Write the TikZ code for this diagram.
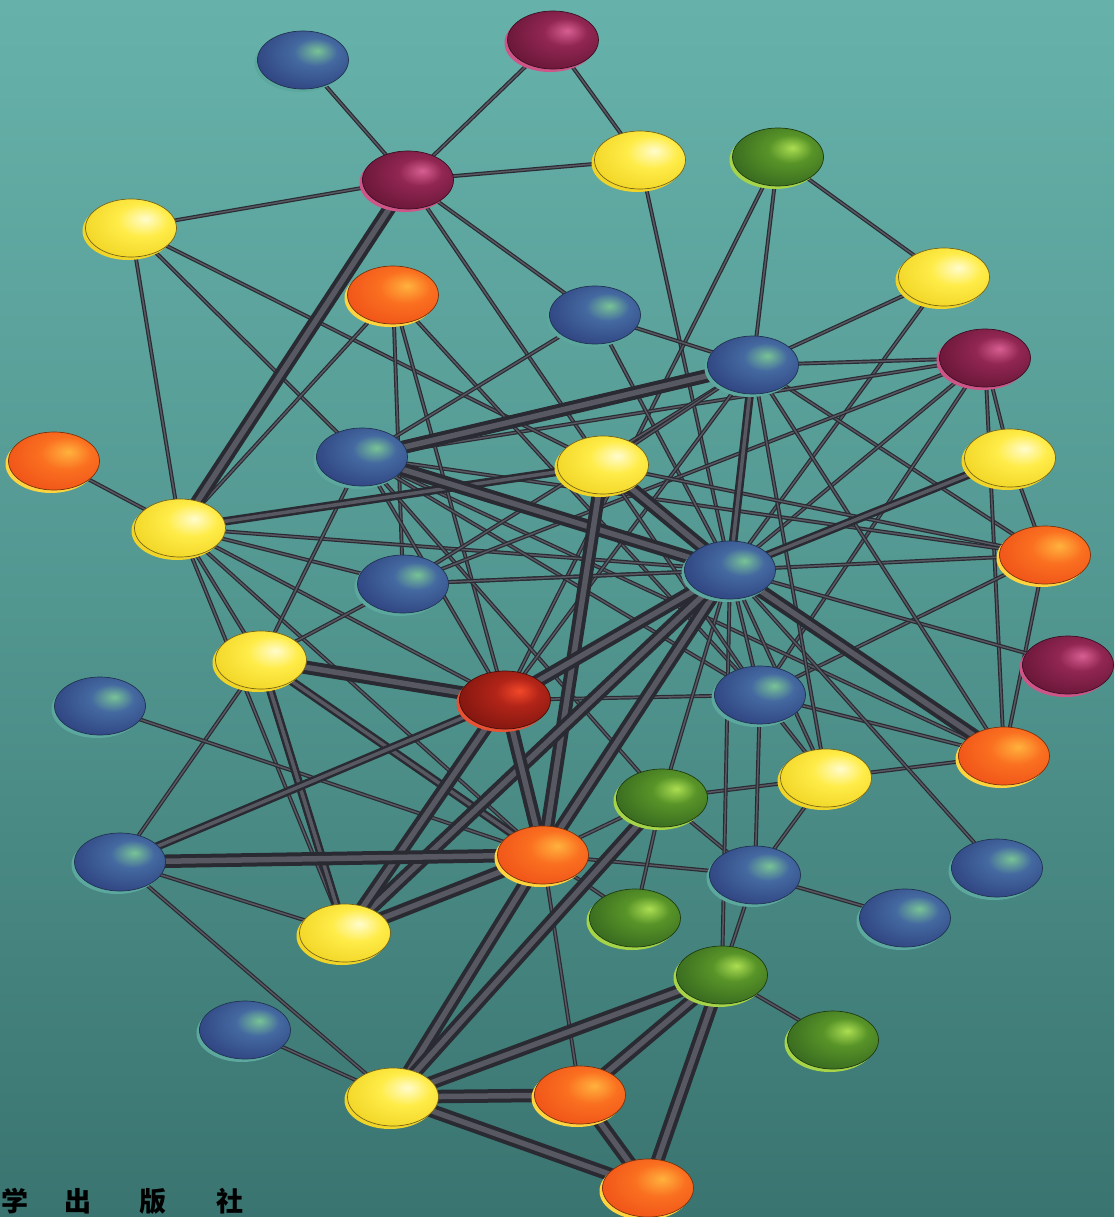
\documentclass[tikz,border=0pt]{standalone}
\usepackage{fontspec}
\newfontfamily\cjk{Noto Sans CJK SC}
\usetikzlibrary{shapes.geometric,shadows}

% colours
\definecolor{bgTop}{RGB}{102,178,170}
\definecolor{bgMid}{RGB}{82,150,144}
\definecolor{bgBot}{RGB}{58,116,112}
\definecolor{edgeDk}{RGB}{42,42,50}
\definecolor{edgeLt}{RGB}{88,88,98}

\definecolor{bHi}{RGB}{120,195,150}\definecolor{bMid}{RGB}{68,105,160}\definecolor{bDk}{RGB}{44,62,125}\definecolor{bRim}{RGB}{92,168,158}\definecolor{bOut}{RGB}{32,52,82}
\definecolor{mHi}{RGB}{215,95,145}\definecolor{mMid}{RGB}{145,38,82}\definecolor{mDk}{RGB}{98,20,52}\definecolor{mRim}{RGB}{205,85,135}\definecolor{mOut}{RGB}{60,15,35}
\definecolor{yHi}{RGB}{255,252,205}\definecolor{yMid}{RGB}{255,236,72}\definecolor{yDk}{RGB}{236,205,25}\definecolor{yRim}{RGB}{240,212,40}\definecolor{yOut}{RGB}{120,100,25}
\definecolor{oHi}{RGB}{255,178,62}\definecolor{oMid}{RGB}{250,112,32}\definecolor{oDk}{RGB}{236,72,22}\definecolor{oRim}{RGB}{255,212,62}\definecolor{oOut}{RGB}{120,50,12}
\definecolor{gHi}{RGB}{172,222,82}\definecolor{gMid}{RGB}{88,148,40}\definecolor{gDk}{RGB}{50,98,30}\definecolor{gRim}{RGB}{165,212,72}\definecolor{gOut}{RGB}{30,60,15}
\definecolor{rHi}{RGB}{242,72,42}\definecolor{rMid}{RGB}{178,36,24}\definecolor{rDk}{RGB}{120,20,14}\definecolor{rRim}{RGB}{232,82,52}\definecolor{rOut}{RGB}{70,15,10}

\pgfdeclareradialshading{shBlue}{\pgfqpoint{8bp}{8bp}}{color(0bp)=(bHi); color(12bp)=(bMid); color(36bp)=(bDk); color(50bp)=(bDk); color(80bp)=(bDk)}
\pgfdeclareradialshading{shMaroon}{\pgfqpoint{8bp}{8bp}}{color(0bp)=(mHi); color(12bp)=(mMid); color(36bp)=(mDk); color(50bp)=(mDk); color(80bp)=(mDk)}
\pgfdeclareradialshading{shYellow}{\pgfqpoint{8bp}{8bp}}{color(0bp)=(yHi); color(14bp)=(yMid); color(40bp)=(yDk); color(50bp)=(yDk); color(80bp)=(yDk)}
\pgfdeclareradialshading{shOrange}{\pgfqpoint{8bp}{8bp}}{color(0bp)=(oHi); color(14bp)=(oMid); color(40bp)=(oDk); color(50bp)=(oDk); color(80bp)=(oDk)}
\pgfdeclareradialshading{shGreen}{\pgfqpoint{8bp}{8bp}}{color(0bp)=(gHi); color(12bp)=(gMid); color(36bp)=(gDk); color(50bp)=(gDk); color(80bp)=(gDk)}
\pgfdeclareradialshading{shRed}{\pgfqpoint{8bp}{8bp}}{color(0bp)=(rHi); color(12bp)=(rMid); color(36bp)=(rDk); color(50bp)=(rDk); color(80bp)=(rDk)}

\pgfdeclarelayer{bg}
\pgfdeclarelayer{edges}
\pgfsetlayers{bg,edges,main}

\tikzset{
  ball/.style={ellipse, minimum width=91pt, minimum height=58pt, inner sep=0pt},
  nB/.style={ball, shading=shBlue, draw=bOut, line width=0.7pt, drop shadow={shadow xshift=-3pt,shadow yshift=-3pt,fill=bRim,opacity=1}},
  nM/.style={ball, shading=shMaroon, draw=mOut, line width=0.7pt, drop shadow={shadow xshift=-3pt,shadow yshift=-3pt,fill=mRim,opacity=1}},
  nY/.style={ball, shading=shYellow, draw=yOut, line width=0.7pt, drop shadow={shadow xshift=-3pt,shadow yshift=-3pt,fill=yRim,opacity=1}},
  nO/.style={ball, shading=shOrange, draw=oOut, line width=0.7pt, drop shadow={shadow xshift=-3pt,shadow yshift=-3pt,fill=oRim,opacity=1}},
  nG/.style={ball, shading=shGreen, draw=gOut, line width=0.7pt, drop shadow={shadow xshift=-3pt,shadow yshift=-3pt,fill=gRim,opacity=1}},
  nR/.style={ball, shading=shRed, draw=rOut, line width=0.7pt, drop shadow={shadow xshift=-3pt,shadow yshift=-3pt,fill=rRim,opacity=1}},
  thinE/.style={draw=edgeDk, double=edgeLt, line width=1.2pt, double distance=1.5pt, line cap=round},
  medE/.style={draw=edgeDk, double=edgeLt, line width=2.5pt, double distance=3.5pt, line cap=round},
  thickE/.style={draw=edgeDk, double=edgeLt, line width=4pt, double distance=5.5pt, line cap=round},
  cjkchar/.style={anchor=base, text=black, font=\cjk\bfseries\fontsize{27pt}{27pt}\selectfont, inner sep=0pt}
}

\begin{document}
\begin{tikzpicture}[x=1pt, y=-1pt]
\useasboundingbox (0,0) rectangle (1114,1217);
\clip (0,0) rectangle (1114,1217);
\begin{pgfonlayer}{bg}
  \shade[top color=bgTop, bottom color=bgBot, middle color=bgMid] (0,0) rectangle (1114,1217);
\end{pgfonlayer}

% nodes
\node[nB] (bA) at (303,60) {};
\node[nM] (mB) at (553,40) {};
\node[nM] (mC) at (408,180) {};
\node[nY] (yD) at (640,160) {};
\node[nG] (gE) at (778,157) {};
\node[nY] (yF) at (131,228) {};
\node[nY] (yG) at (944,277) {};
\node[nO] (oH) at (393,295) {};
\node[nB] (bI) at (595,315) {};
\node[nB] (bJ) at (753,365) {};
\node[nM] (mK) at (985,358) {};
\node[nO] (oL) at (54,461) {};
\node[nB] (bM) at (362,457) {};
\node[nY] (yN) at (603,465) {};
\node[nY] (yO) at (1010,458) {};
\node[nY] (yP) at (180,528) {};
\node[nB] (bQ) at (730,570) {};
\node[nO] (oR) at (1045,555) {};
\node[nB] (bS) at (403,584) {};
\node[nY] (yT) at (261,660) {};
\node[nR] (rU) at (505,700) {};
\node[nB] (bV) at (760,695) {};
\node[nM] (mW) at (1068,665) {};
\node[nB] (bX) at (100,706) {};
\node[nO] (oY) at (1004,756) {};
\node[nY] (yZ) at (826,778) {};
\node[nG] (g27) at (662,798) {};
\node[nB] (b28) at (120,862) {};
\node[nO] (o29) at (543,855) {};
\node[nB] (b30) at (755,875) {};
\node[nB] (b31) at (997,868) {};
\node[nG] (g32) at (635,918) {};
\node[nB] (b33) at (905,918) {};
\node[nY] (y34) at (345,933) {};
\node[nG] (g35) at (722,975) {};
\node[nG] (g36) at (833,1040) {};
\node[nB] (b37) at (245,1030) {};
\node[nY] (y38) at (393,1097) {};
\node[nO] (o39) at (580,1095) {};
\node[nO] (o40) at (648,1188) {};

% edges
\begin{pgfonlayer}{edges}
\foreach \a/\b in {bA/mC, mB/mC, mB/yD, mC/yD, mC/yF, mC/bI, mC/yN, yD/bQ,
  gE/bJ, gE/yG, gE/rU, yG/bJ, yG/bQ, bJ/mK, bJ/bI, bJ/oR, mK/bM, mK/yO, mK/oY,
  mK/bQ, mK/bV, yO/oR, oR/oY, bQ/oR, bM/oR, oR/bV, bQ/mW, bV/oY, yZ/oY, bM/oY,
  yF/yP, yF/bM, yF/yN, oL/yP, oH/yP, oH/bS, oH/rU, oH/bV, bI/bQ, bI/bM,
  yP/bQ, yP/bS, yP/rU, yP/o29, yP/yT, yP/y34, yT/bM, yT/bS, yT/b28, bX/o29,
  b28/y34, b28/y38, b37/y38, bM/rU, bM/bV, bM/g27, bS/bQ, bS/mK, rU/bV,
  o29/g32, o29/b30, o29/g27, o29/o39, g27/b30, g27/g32, g27/yZ, b30/yZ, b30/b33,
  b30/g35, bV/b30, bQ/g35, bQ/b31, g35/g36, bQ/yZ, bQ/g27, bQ/bV, bJ/rU, bJ/oY,
  bJ/bS, bJ/yZ, yN/bV, yN/oR, bV/yZ, bJ/yN, bQ/bS}
  \draw[thinE] (\a.center) -- (\b.center);
\foreach \a/\b in {yP/yN, yT/y34, yT/o29, b28/rU, bJ/bQ, yO/bQ}
  \draw[medE] (\a.center) -- (\b.center);
\foreach \a/\b in {mC/yP, bM/bJ, bM/bQ, yN/bQ, yN/o29, bQ/oY, bQ/rU, bQ/o29,
  bQ/y34, yT/rU, rU/o29, rU/y34, b28/o29, y34/o29, o29/y38, g27/y38, g35/y38,
  g35/o39, g35/o40, y38/o39, y38/o40, o39/o40}
  \draw[thickE] (\a.center) -- (\b.center);
\end{pgfonlayer}

% imprint at the bottom edge
\node[cjkchar] (t1) at (15,1211) {学};
\node[cjkchar] (t2) at (78,1211) {出};
\node[cjkchar] (t3) at (153,1211) {版};
\node[cjkchar] (t4) at (230,1211) {社};
\end{tikzpicture}
\end{document}
